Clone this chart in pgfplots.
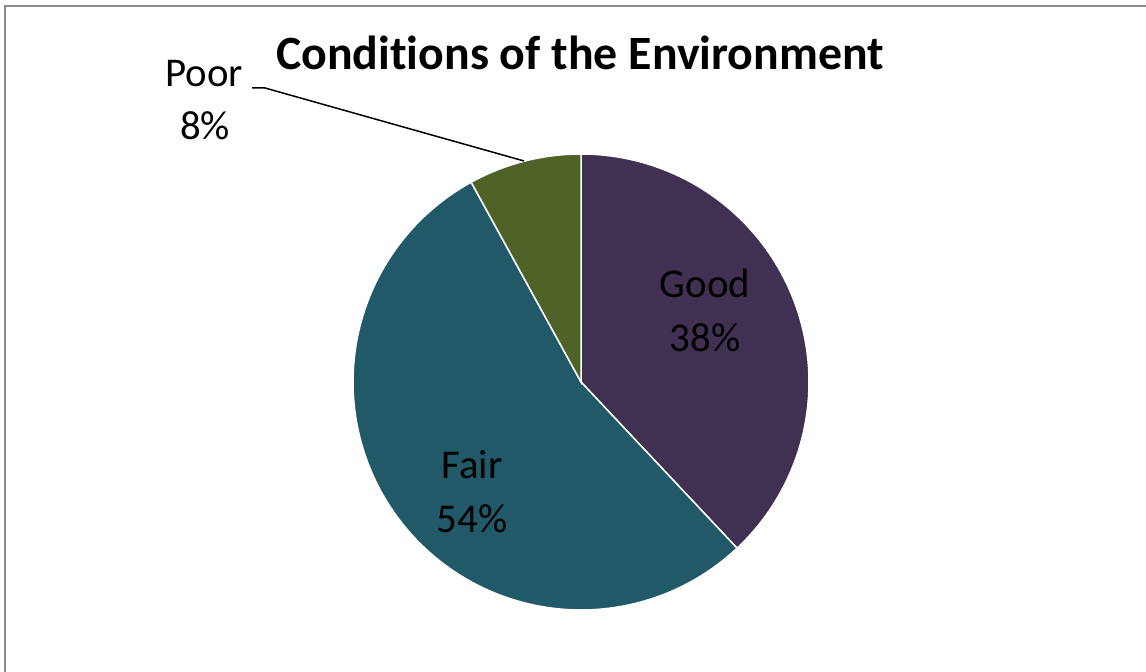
\documentclass[border=0pt]{standalone}
\usepackage{pgfplots}
\pgfplotsset{compat=1.18}
\usepackage{fontspec}
\setmainfont{Carlito}[Ligatures=NoCommon]
\definecolor{cGood}{HTML}{403152}
\definecolor{cFair}{HTML}{215968}
\definecolor{cPoor}{HTML}{4F6228}
\definecolor{frame}{HTML}{8C8C8C}
% values (percent)
\def\vGood{38}
\def\vFair{54}
\def\vPoor{8}
\begin{document}
\begin{tikzpicture}
\useasboundingbox (0,0) rectangle (1146bp,672bp);
\begin{axis}[
  scale only axis, width=1146bp, height=672bp,
  at={(0,0)}, anchor=south west,
  xmin=0, xmax=1146, ymin=0, ymax=672,
  hide axis, clip=false,
]
% pie slices, clockwise from 12 o'clock
\pgfmathsetmacro{\aA}{\vGood*3.6}
\pgfmathsetmacro{\aB}{(\vGood+\vFair)*3.6}
\pgfmathsetmacro{\aC}{(\vGood+\vFair+\vPoor)*3.6}
\addplot[fill=cGood, draw=white, line width=1.5bp, domain=0:\aA, samples=90]
  ({581+228*sin(x)},{290+228*cos(x)}) -- (axis cs:581,290) -- cycle;
\addplot[fill=cFair, draw=white, line width=1.5bp, domain=\aA:\aB, samples=120]
  ({581+228*sin(x)},{290+228*cos(x)}) -- (axis cs:581,290) -- cycle;
\addplot[fill=cPoor, draw=white, line width=1.5bp, domain=\aB:\aC, samples=30]
  ({581+228*sin(x)},{290+228*cos(x)}) -- (axis cs:581,290) -- cycle;
% frame (top and left visible)
\draw[frame, line width=2bp] (axis cs:5,-2) -- (axis cs:5,666) -- (axis cs:1148,666);
% title
\node[anchor=base, font=\fontsize{48}{54}\selectfont\bfseries] at (axis cs:580,602) {Conditions of the Environment};
% labels
\node[anchor=base, font=\fontsize{41}{46}\selectfont] at (axis cs:705,374) {Good};
\node[anchor=base, font=\fontsize{41}{46}\selectfont] at (axis cs:705,320) {38\%};
\node[anchor=base, font=\fontsize{41}{46}\selectfont] at (axis cs:472,193) {Fair};
\node[anchor=base, font=\fontsize{41}{46}\selectfont] at (axis cs:472,139) {54\%};
\node[anchor=base, font=\fontsize{41}{46}\selectfont] at (axis cs:204,585) {Poor};
\node[anchor=base, font=\fontsize{41}{46}\selectfont] at (axis cs:205,532) {8\%};
\draw[black, line width=1.5bp] (axis cs:252,584) -- (axis cs:265,584) -- (axis cs:524,511);
\end{axis}
\end{tikzpicture}
\end{document}
